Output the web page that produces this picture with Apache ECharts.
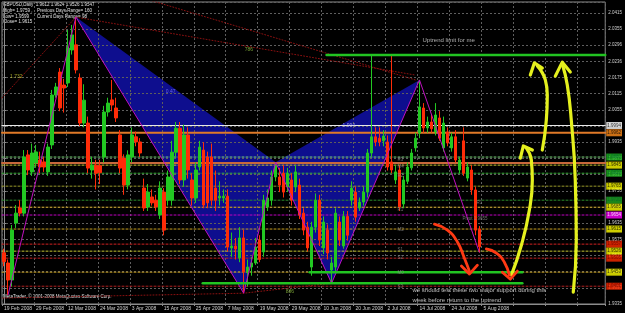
<!DOCTYPE html>
<html><head><meta charset="utf-8">
<script src="https://cdn.jsdelivr.net/npm/echarts@6/dist/echarts.min.js"></script>
<style>html,body{margin:0;padding:0;background:#000;}#c{width:625px;height:313px;}</style>
</head><body><div id="c"></div>
<script>
const BASE = 1.9335;
const yTickLabels = ['1.9335','1.9395','1.9455','1.9515','1.9575','1.9635','1.9695','1.9755','1.9815','1.9875','1.9935','1.9995','2.0055','2.0115','2.0175','2.0236','2.0296','2.0355','2.0415'];
const xTickLabels = ['19 Feb 2008','29 Feb 2008','12 Mar 2008','24 Mar 2008','3 Apr 2008','15 Apr 2008','25 Apr 2008','7 May 2008','19 May 2008','29 May 2008','10 Jun 2008','20 Jun 2008','2 Jul 2008','14 Jul 2008','24 Jul 2008','5 Aug 2008'];

const openP = [1.9525,1.9487,1.9424,1.9635,1.9691,1.9672,1.9888,1.9825,1.9858,1.9869,1.9862,1.9825,1.9925,2.0110,2.0195,2.0147,2.0155,2.0277,2.0296,2.0173,
2.0006,2.0006,1.9832,1.9850,1.9848,1.9880,2.0047,2.0092,2.0062,1.9962,1.9876,1.9776,1.9880,1.9955,1.9936,1.9765,1.9695,1.9732,1.9720,1.9665,
1.9750,1.9720,1.9720,1.9898,1.9987,1.9795,1.9962,1.9795,1.9728,1.9843,1.9906,1.9880,1.9880,1.9765,1.9728,1.9728,1.9735,1.9543,1.9550,1.9506,
1.9580,1.9454,1.9472,1.9487,1.9572,1.9528,1.9695,1.9720,1.9806,1.9806,1.9820,1.9769,1.9795,1.9769,1.9776,1.9672,1.9620,1.9472,1.9620,1.9720,
1.9543,1.9609,1.9461,1.9472,1.9639,1.9550,1.9660,1.9720,1.9750,1.9691,1.9713,1.9750,1.9895,1.9955,1.9950,1.9940,1.9936,1.9862,1.9795,1.9832,
1.9706,1.9790,1.9840,1.9914,1.9969,2.0062,1.9988,2.0010,1.9973,2.0025,1.9914,1.9973,1.9914,1.9955,1.9832,1.9940,1.9802,1.9832,1.9758,1.9612];
const highP = [1.9540,1.9500,1.9628,1.9702,1.9720,1.9906,1.9906,1.9930,1.9925,1.9900,1.9880,1.9930,2.0129,2.0155,2.0210,2.0170,2.0351,2.0370,2.0399,2.0190,
2.0150,2.0030,1.9880,1.9870,1.9870,2.0070,2.0100,2.0166,2.0100,1.9980,1.9890,1.9905,1.9990,1.9975,1.9950,1.9800,1.9780,1.9760,1.9740,1.9790,
1.9765,1.9830,1.9940,2.0010,2.0010,2.0000,1.9990,1.9820,1.9860,1.9940,1.9935,1.9900,1.9930,1.9830,1.9790,1.9760,1.9760,1.9600,1.9580,1.9620,
1.9610,1.9500,1.9510,1.9580,1.9590,1.9740,1.9760,1.9830,1.9861,1.9840,1.9850,1.9840,1.9820,1.9850,1.9800,1.9690,1.9640,1.9640,1.9745,1.9740,
1.9660,1.9630,1.9510,1.9690,1.9660,1.9680,1.9680,1.9790,1.9770,1.9730,1.9770,1.9910,2.0255,1.9990,1.9990,1.9980,1.9960,2.0255,1.9850,1.9850,
1.9810,1.9860,1.9910,1.9970,2.0166,2.0080,2.0030,2.0040,2.0080,2.0050,2.0030,1.9990,1.9970,1.9980,1.9880,1.9990,1.9860,1.9850,1.9770,1.9624];
const lowP = [1.9475,1.9368,1.9400,1.9617,1.9660,1.9660,1.9813,1.9810,1.9840,1.9820,1.9825,1.9810,1.9910,2.0100,2.0050,2.0045,2.0140,2.0260,2.0190,1.9995,
1.9990,1.9820,1.9800,1.9760,1.9780,1.9860,2.0030,2.0050,2.0010,1.9820,1.9740,1.9760,1.9860,1.9920,1.9880,1.9680,1.9680,1.9700,1.9680,1.9650,
1.9590,1.9700,1.9700,1.9880,1.9780,1.9770,1.9800,1.9700,1.9710,1.9830,1.9690,1.9690,1.9700,1.9680,1.9700,1.9710,1.9530,1.9510,1.9500,1.9490,
1.9375,1.9400,1.9440,1.9480,1.9490,1.9510,1.9680,1.9700,1.9790,1.9750,1.9730,1.9750,1.9700,1.9750,1.9650,1.9590,1.9530,1.9440,1.9600,1.9550,
1.9520,1.9500,1.9412,1.9450,1.9550,1.9540,1.9570,1.9700,1.9640,1.9680,1.9700,1.9730,1.9880,1.9920,1.9920,1.9920,1.9830,1.9820,1.9780,1.9680,
1.9690,1.9780,1.9830,1.9900,1.9950,1.9970,1.9970,1.9970,1.9960,1.9940,1.9900,1.9920,1.9900,1.9860,1.9820,1.9810,1.9790,1.9740,1.9590,1.9526];
const closeP = [1.9492,1.9424,1.9609,1.9672,1.9672,1.9880,1.9832,1.9895,1.9899,1.9843,1.9843,1.9917,2.0110,2.0140,2.0062,2.0136,2.0284,2.0333,2.0203,2.0006,
2.0091,1.9839,1.9850,1.9820,1.9822,2.0047,2.0080,2.0073,2.0025,1.9839,1.9776,1.9888,1.9962,1.9936,1.9895,1.9691,1.9750,1.9710,1.9695,1.9765,
1.9609,1.9806,1.9898,1.9987,1.9795,1.9962,1.9832,1.9728,1.9832,1.9917,1.9702,1.9710,1.9720,1.9720,1.9735,1.9735,1.9546,1.9550,1.9539,1.9580,
1.9454,1.9472,1.9487,1.9546,1.9500,1.9720,1.9728,1.9806,1.9850,1.9776,1.9750,1.9820,1.9720,1.9825,1.9665,1.9609,1.9543,1.9620,1.9720,1.9572,
1.9639,1.9524,1.9487,1.9672,1.9572,1.9660,1.9590,1.9765,1.9657,1.9713,1.9750,1.9895,1.9955,1.9936,1.9936,1.9958,1.9843,1.9832,1.9825,1.9695,
1.9795,1.9843,1.9895,1.9950,2.0066,1.9988,2.0010,1.9985,2.0036,1.9950,2.0006,1.9932,1.9955,1.9869,1.9869,1.9820,1.9843,1.9758,1.9609,1.9547];

// horizontal levels (price, right-side label)
const levelPrices = [1.9997,1.9970,1.9880,1.9858,1.9850,1.9820,1.9772,1.9720,1.9694,1.9665,1.9613,1.9557,1.9531,1.9505,1.9453,1.9401];
const levelLabels = ['1.9994','1.9962','1.9880','','1.9845','1.9820','1.9765','1.9720','1.9685','1.9654','1.9615','1.9557','1.9526','1.9505','1.9453','1.9401'];
// pattern pivots (bar index, price)
const pivotBars = [1,18,60,68,82,104,119];
const pivotPrices = [1.9368,2.0399,1.9375,1.9861,1.9412,2.0166,1.9526];
// support / limit lines
const supportStart = [76.5,49.75,80.75];
const supportEnd = [129.75,129.75,150.5];
const supportPrice = [1.9453,1.9412,2.0258];
// annotations
const noteTexts = ['1.732','0.47','786','1.994','886','Uptrend limit for me','we should test these two major support during this','week before return to the uptrend','R3','M4','R2','R1','M2','S1','S2','M0','S3','Pivot 1.9655','R1'];
const noteBars = [1.5,40.5,60.25,84.75,70.5,104.75,102.25,102.25,98.5,98.5,98.5,98.5,98.5,98.5,98.5,98.5,98.5,114.75,118.25];
const notePrices = [2.0177,2.0121,2.0277,1.9997,1.9380,2.0314,1.9387,1.9350,1.9869,1.9843,1.9810,1.9683,1.9609,1.9535,1.9505,1.9450,1.9400,1.9650,1.9709];
// hand drawn strokes (bar index, price)
const yellow1 = [[142.5,1.9379],[143.25,1.9572],[143.0,1.9795],[142.0,2.0017],[141.0,2.0147],[139.75,2.0225]];
const yellow1Head = [[138.0,2.0180],[139.75,2.0232],[141.75,2.0195]];
const yellow2 = [[134.75,1.9906],[135.75,2.0017],[136.0,2.0110],[135.5,2.0166],[133.5,2.0218]];
const yellow2Head = [[131.75,2.0184],[132.75,2.0229],[134.75,2.0210]];
const yellow3 = [[127.0,1.9442],[129.5,1.9553],[131.5,1.9683],[132.25,1.9795],[132.0,1.9869],[130.75,1.9913]];
const yellow3Head = [[129.25,1.9876],[130.0,1.9921],[132.25,1.9906]];
const red1 = [[107.75,1.9631],[111.0,1.9609],[113.5,1.9565],[115.25,1.9505],[116.5,1.9457]];
const red1Head = [[114.5,1.9476],[116.5,1.9446],[118.5,1.9479]];
const red2 = [[120.75,1.9539],[123.25,1.9524],[125.25,1.9490],[126.5,1.9442]];
const red2Head = [[124.75,1.9453],[126.75,1.9427],[128.5,1.9457]];
const dotted1 = [[-1,2.0091],[18,2.0399]];
const dotted2 = [[18,2.0399],[103,2.0184]];
const dotted3 = [[36.5,2.0462],[103,2.0166]];
const dotted4 = [[-1,1.9357],[60,1.9375],[82,1.9412]];

// ---- styles ----
const FONT = 'Arial, "Liberation Sans", sans-serif';
const levelLineColors = ['#e8e8e8','#e07a28','#7cd67c','#c8683c','#c8c832','#3cb43c','#9a9a2a','#2a8a2a','#c8a020','#c000c0','#c8a020','#d02020','#c8c832','#c02020','#c8a020','#b02020'];
const levelTypes = ['solid','solid',[2,2],'solid',[2,2],[2,2],[2,2],[2,2],[2,2],[2,2],[2,2],[2,2],[2,2],[2,2],[2,2],[2,2]];
const levelWidths = [1.2,2,1,2,1,1,1,1,1,1,1,1,1,1,1,1];
const levelBox = ['#ffffff','#ff8c1a','#22b822','','#ffff00','#22b822','#ffff00','#22a822','#ffff00','#ff00ff','#ffff00','#ff2a00','#ffff00','#ff2a00','#ffff00','#ff2a00'];
const levelText = ['#000','#000','#063','','#000','#063','#000','#063','#000','#fff','#000','#600','#000','#600','#000','#600'];
const noteColors = ['#c8c832','#7a7aff','#90c040','#b8b8ff','#90c040','#d8d8d8','#e6e6e6','#e6e6e6','#8a8a8a','#8a8a8a','#8a8a8a','#8a8a8a','#8a8a8a','#8a8a8a','#8a8a8a','#8a8a8a','#8a8a8a','#8a8a8a','#8a8a8a'];
const noteSizes = [5,5,5,5,5,6,6,6,4.5,4.5,4.5,4.5,4.5,4.5,4.5,4.5,4.5,4.5,4.5];

const off = p => +(p - BASE).toFixed(5);
const pts = arr => arr.map(([b,p]) => [b, off(p)]);
const categories = openP.concat(new Array(151 - openP.length).fill(null)).map((_, i) => String(i));
const candles = openP.map((o,i) => [off(o), off(closeP[i]), off(lowP[i]), off(highP[i])]);
const piv = pivotBars.map((b,i) => [b, off(pivotPrices[i])]);

function lineSeries(data, color, width, type, smooth, z) {
  return {type:'line', xAxisIndex:1, yAxisIndex:0, data: pts(data), symbol:'none', smooth: smooth||false,
    silent:true, animation:false, z: z||3, clip:true,
    lineStyle:{color, width, type: type||'solid', cap:'round', join:'round'}};
}

const series = [
  {type:'custom', xAxisIndex:1, yAxisIndex:0, z:-1, silent:true, animation:false,
   data:[[60,0.05],[82,0.05]],
   renderItem:(params, api) => {
     const tri = params.dataIndex === 0 ? [piv[1],piv[2],piv[3]] : [piv[3],piv[4],piv[5]];
     return {type:'polygon', shape:{points: tri.map(p => api.coord(p))}, style:{fill:'#0e0e8e'}};
   }},
  ...levelPrices.map((p,i) => lineSeries([[-0.5,p],[150.5,p]], levelLineColors[i], levelWidths[i], levelTypes[i], false, 2)),
  {type:'candlestick', xAxisIndex:0, yAxisIndex:0, data:candles, barWidth:3, animation:false, silent:true, z:4,
   itemStyle:{color:'#22c822', color0:'#ff2c08', borderColor:'#22c822', borderColor0:'#ff2c08', borderWidth:1}},
  lineSeries(dotted1, '#8a1010', 1, [1,2]),
  lineSeries(dotted2, '#8a1010', 1, [1,2]),
  lineSeries(dotted3, '#8a1010', 1, [1,2]),
  lineSeries(dotted4, '#8a1010', 1, [1,2]),
  {type:'line', xAxisIndex:1, yAxisIndex:0, data: piv, symbol:'none', silent:true, animation:false, z:5,
   lineStyle:{color:'#c010c0', width:1}},
  ...supportPrice.map((p,i) => lineSeries([[supportStart[i],p],[supportEnd[i],p]], '#22c422', 2.5, 'solid', false, 6)),
  lineSeries(yellow1, '#e4f01e', 3.2, 'solid', 0.5, 7),
  lineSeries(yellow1Head, '#e4f01e', 3.2, 'solid', false, 7),
  lineSeries(yellow2, '#e4f01e', 3.2, 'solid', 0.5, 7),
  lineSeries(yellow2Head, '#e4f01e', 3.2, 'solid', false, 7),
  lineSeries(yellow3, '#e4f01e', 3.2, 'solid', 0.5, 7),
  lineSeries(yellow3Head, '#e4f01e', 3.2, 'solid', false, 7),
  lineSeries(red1, '#ff3a14', 2.8, 'solid', 0.5, 7),
  lineSeries(red1Head, '#ff3a14', 2.8, 'solid', false, 7),
  lineSeries(red2, '#ff3a14', 2.8, 'solid', 0.5, 7),
  lineSeries(red2Head, '#ff3a14', 2.8, 'solid', false, 7),
  {type:'scatter', xAxisIndex:1, yAxisIndex:0, symbolSize:0, silent:true, animation:false, z:8,
   data: noteTexts.map((t,i) => ({name:t, value:[noteBars[i], off(notePrices[i])],
     label:{show:true, position:'right', distance:0, formatter:'{b}', color: noteColors[i], fontSize: noteSizes[i], fontFamily:FONT}}))},
  {type:'scatter', xAxisIndex:1, yAxisIndex:0, symbolSize:0, silent:true, animation:false, z:9, clip:false,
   labelLayout:{hideOverlap:false},
   data: levelPrices.map((p,i) => ({name: levelLabels[i], value:[150.5, off(p)],
     label: levelLabels[i] ? {show:true, position:'right', distance:1, formatter:'{b}', fontSize:4.5, fontFamily:FONT,
       color: levelText[i], backgroundColor: levelBox[i], padding:[1,1,1,1]} : {show:false}}))}
];

const chart = echarts.init(document.getElementById('c'), null, {renderer:'canvas'});
chart.setOption({
  backgroundColor:'#000',
  animation:false,
  grid:{left:2, right:19, top:2, bottom:9, show:true, borderColor:'#8c8c8c', borderWidth:1, backgroundColor:'transparent'},
  xAxis:[
    {type:'category', data:categories, boundaryGap:true,
     axisLine:{show:true, lineStyle:{color:'#8c8c8c'}},
     axisTick:{show:true, interval:7, length:2, lineStyle:{color:'#8c8c8c'}},
     axisLabel:{show:true, interval:7, align:'left', margin:2, fontSize:5, fontFamily:FONT, color:'#cfcfcf',
       formatter:(v, idx) => xTickLabels[Math.round(idx/8)] || ''},
     splitLine:{show:true, interval:7, lineStyle:{color:'#5e5e5e', type:[2,2], width:1}}},
    {type:'value', min:-0.5, max:150.5, show:false}
  ],
  yAxis:[{type:'value', position:'right', min:0, max:0.112, interval:0.006,
    axisLine:{show:true, lineStyle:{color:'#8c8c8c'}},
    axisTick:{show:true, length:2, lineStyle:{color:'#8c8c8c'}},
    axisLabel:{show:true, showMaxLabel:false, margin:3, fontSize:4.5, fontFamily:FONT, color:'#cfcfcf',
      formatter: v => yTickLabels[Math.round(v/0.006)] || ''},
    splitLine:{show:true, lineStyle:{color:'#5e5e5e', type:[2,2], width:1}}}],
  graphic:[
    {type:'text', left:3, top:2, style:{text:'GBPUSD,Daily  1.9612 1.9624 1.9526 1.9547', fill:'#e0e0e0', font:'4.5px ' + FONT}},
    {type:'text', left:3, top:8, style:{text:'High= 1.9759 ,', fill:'#e0e0e0', font:'4.5px ' + FONT}},
    {type:'text', left:37, top:8, style:{text:'Previous Days Range= 160', fill:'#e0e0e0', font:'4.5px ' + FONT}},
    {type:'text', left:3, top:14, style:{text:'Low= 1.9599', fill:'#e0e0e0', font:'4.5px ' + FONT}},
    {type:'text', left:37, top:14, style:{text:'Current Days Range= 98', fill:'#e0e0e0', font:'4.5px ' + FONT}},
    {type:'text', left:3, top:19, style:{text:'Close= 1.9615', fill:'#e0e0e0', font:'4.5px ' + FONT}},
    {type:'text', left:3, top:294, style:{text:'MetaTrader, \u00a9 2001-2008 MetaQuotes Software Corp.', fill:'#e0e0e0', font:'4.5px ' + FONT}}
  ],
  series
});
</script></body></html>
